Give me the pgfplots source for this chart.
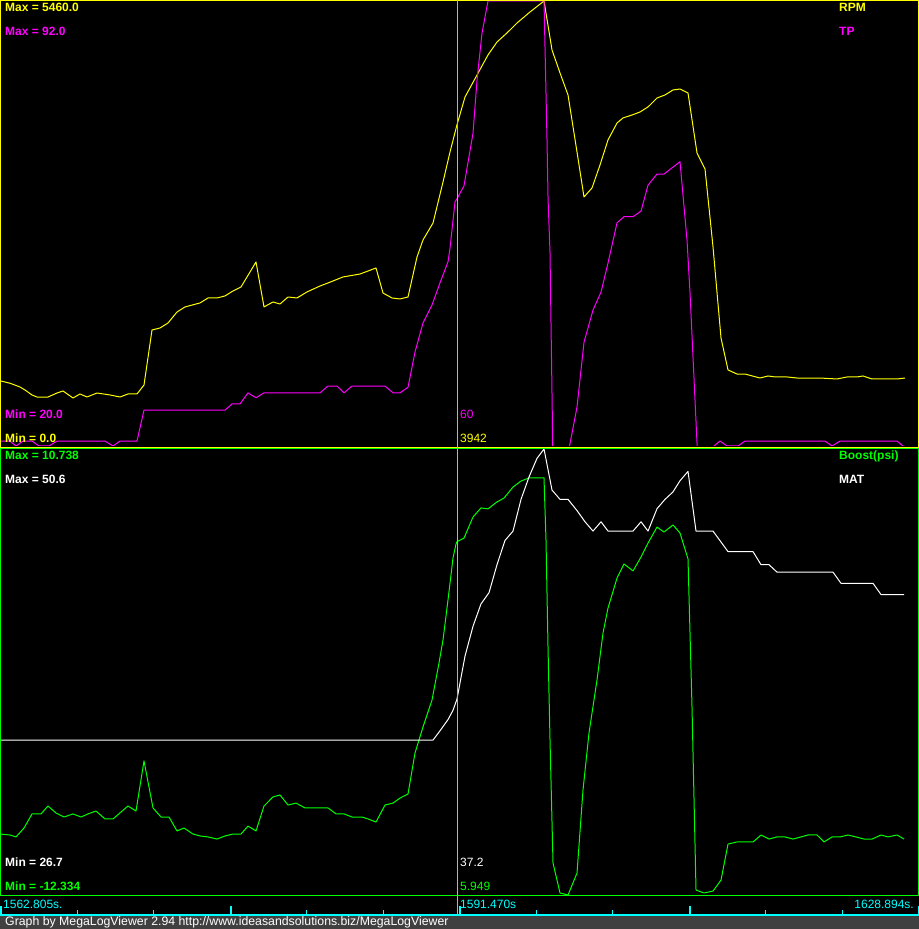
\documentclass[border=0pt]{standalone}
\usepackage{pgfplots}
\pgfplotsset{compat=1.18}
\usepackage{fontspec}
\setmainfont{Liberation Sans}
\definecolor{myyellow}{RGB}{255,255,0}
\definecolor{mymag}{RGB}{255,0,255}
\definecolor{mygreen}{RGB}{0,255,0}
\definecolor{mycyan}{RGB}{0,255,255}
\definecolor{footgray}{RGB}{64,64,64}
\pgfplotsset{
  panel/.style={at={(0bp,#1)}, anchor=south west, width=918bp, scale only axis,
    xmin=0, xmax=918, axis lines=none, ticks=none, clip=true},
  trace/.style={line width=1bp, mark=none, line join=round}
}
\begin{document}
\begin{tikzpicture}[x=1bp,y=1bp]
\useasboundingbox (0,0) rectangle (919,929);
\clip (0,0) rectangle (919,929);
\fill[black] (0,0) rectangle (919,929);
\fill[footgray] (0,0) rectangle (919,13);

% ---------- top panel: RPM ----------
\begin{axis}[panel=483bp, height=445bp, ymin=0, ymax=5460]
\addplot[trace, myyellow] coordinates {
(0,800)(10,770)(20,724)(25,687)(32,626)(37,601)(48,601)(57,650)(63,675)(73,589)
(80,638)(87,601)(97,650)(110,626)(120,601)(128,638)(137,638)(144,748)(152,1423)(160,1448)
(168,1509)(177,1644)(185,1706)(200,1755)(208,1816)(217,1816)(225,1841)(233,1902)(241,1951)(256,2258)
(264,1706)(273,1767)(280,1742)(288,1828)(297,1816)(307,1890)(320,1963)(328,2000)(343,2074)(360,2110)
(376,2184)(383,1877)(392,1816)(400,1804)(408,1828)(417,2319)(423,2528)(433,2736)(443,3239)(450,3607)
(457,3942)(465,4282)(477,4552)(488,4798)(497,4957)(507,5068)(517,5190)(530,5325)(544,5460)(552,4859)
(560,4577)(568,4307)(577,3607)(584,3055)(592,3166)(600,3448)(608,3755)(617,3963)(623,4025)(632,4061)
(640,4098)(648,4160)(657,4270)(665,4307)(673,4368)(680,4380)(688,4331)(697,3595)(705,3399)(713,2442)
(721,1325)(728,933)(737,883)(745,883)(760,834)(768,859)(775,847)(787,847)(797,834)(820,834)
(837,822)(847,847)(857,847)(863,859)(872,822)(887,822)(897,822)(905,834)
};
\end{axis}
% ---------- top panel: TP ----------
\begin{axis}[panel=483bp, height=445bp, ymin=20, ymax=92]
\addplot[trace, mymag] coordinates {
(0,20.8)(10,20.8)(16,20)(23,20.8)(32,20.8)(39,20)(49,20)(57,20.8)(105,20.8)(113,20)
(120,20.8)(137,20.8)(144,25.8)(225,25.8)(232,26.8)(240,26.8)(248,28.6)(256,27.8)(264,28.6)(320,28.6)
(328,29.7)(337,29.7)(344,28.6)(352,29.7)(385,29.7)(393,28.6)(400,28.6)(408,29.5)(415,35.2)(423,39.9)
(432,42.8)(440,46.4)(448,49.8)(450,52.0)(455,59.5)(457,60)(464,62.1)(473,70.6)(477,79.2)(482,86.8)
(488,92)(544,92)(547,69.5)(548,60.3)(550,51.2)(553,17)(566,17)(577,26.3)(584,36.8)(593,42.0)
(601,44.9)(608,49.6)(617,56.1)(624,57.1)(633,57.1)(641,58.0)(648,62.2)(657,64.0)(664,64.0)(680,66.0)
(687,53.3)(690,44.8)(698,17)(712,17)(714,20)(720,20.8)(727,20)(738,20)(745,20.8)(825,20.8)(832,20)
(840,20.8)(897,20.8)(903,20)
};
\end{axis}

% ---------- bottom panel: Boost ----------
\begin{axis}[panel=34bp, height=446bp, ymin=-12.334, ymax=10.738]
\addplot[trace, mygreen] coordinates {
(0,-9.18)(10,-9.23)(16,-9.33)(24,-8.87)(32,-8.14)(41,-8.14)(48,-7.73)(56,-8.09)(64,-8.30)(73,-8.14)
(81,-8.30)(88,-8.14)(96,-7.99)(105,-8.40)(113,-8.40)(121,-8.04)(128,-7.73)(136,-7.99)(144,-5.40)(153,-7.83)
(161,-8.30)(169,-8.30)(177,-9.02)(184,-8.87)(193,-9.18)(200,-9.28)(208,-9.33)(217,-9.44)(225,-9.28)(233,-9.18)
(241,-9.18)(248,-8.77)(256,-9.02)(264,-7.73)(273,-7.26)(280,-7.16)(288,-7.68)(296,-7.58)(305,-7.83)(328,-7.83)
(336,-8.14)(344,-8.14)(352,-8.30)(362,-8.30)(368,-8.40)(376,-8.56)(385,-7.68)(393,-7.58)(400,-7.32)(408,-7.11)
(415,-4.99)(423,-3.64)(432,-2.25)(439,-0.33)(443,0.86)(448,2.93)(453,5.10)(456,5.82)(457,5.949)(464,6.13)
(473,7.22)(481,7.69)(488,7.64)(497,8.00)(504,8.20)(513,8.77)(521,9.08)(529,9.24)(544,9.24)(546,6.03)
(548,0.50)(550,-4.32)(553,-10.68)(560,-12.23)(568,-12.334)(577,-11.20)(583,-6.90)(589,-3.95)(597,-1.21)(603,1.22)
(608,2.51)(617,4.06)(624,4.79)(633,4.43)(641,5.15)(648,5.87)(657,6.70)(664,6.44)(673,6.81)(680,6.39)
(688,5.05)(692,-2.61)(696,-12.08)(704,-12.23)(713,-12.13)(721,-11.56)(728,-9.70)(737,-9.59)(753,-9.59)(761,-9.23)
(769,-9.44)(777,-9.33)(785,-9.33)(793,-9.44)(801,-9.33)(808,-9.23)(817,-9.23)(824,-9.59)(832,-9.33)(840,-9.33)
(848,-9.23)(856,-9.33)(864,-9.44)(872,-9.44)(881,-9.23)(888,-9.33)(897,-9.23)(904,-9.44)
};
\end{axis}
% ---------- bottom panel: MAT ----------
\begin{axis}[panel=34bp, height=446bp, ymin=26.7, ymax=50.6]
\addplot[trace, white] coordinates {
(0,35.0)(433,35.0)(440,35.5)(448,36.1)(453,36.6)(457,37.2)(465,39.5)(473,41.1)(481,42.3)(489,42.9)
(497,44.4)(505,45.7)(513,46.2)(521,47.9)(529,49.1)(537,50.1)(544,50.6)(552,48.4)(560,47.9)(568,47.9)
(577,47.3)(585,46.7)(593,46.2)(601,46.7)(608,46.2)(633,46.2)(641,46.7)(648,46.2)(657,47.4)(665,47.9)
(673,48.3)(680,48.9)(688,49.4)(696,46.2)(713,46.2)(728,45.1)(753,45.1)(761,44.4)(769,44.4)(777,44.0)
(833,44.0)(841,43.4)(873,43.4)(881,42.8)(904,42.8)
};
\end{axis}

% ---------- frames ----------
\draw[myyellow, line width=1bp] (0.5,481.5) rectangle (918.5,928.5);
\draw[mygreen, line width=1bp] (0.5,33.5) rectangle (918.5,480.5);
% cursor (filled 1px column)
\fill[mycyan] (457,13) rectangle (458.2,929);
% time axis
\fill[mycyan] (0,13) rectangle (919,14.6);
\foreach \k in {0,...,12} {
  \pgfmathsetmacro{\tx}{round(\k*76.5)}
  \pgfmathtruncatemacro{\big}{mod(\k,3)==0 ? 1 : 0}
  \ifnum\big=1
    \fill[mycyan] (\tx,13) rectangle ({\tx+1.6},23);
  \else
    \fill[mycyan] (\tx,13) rectangle ({\tx+1.1},18.5);
  \fi
}

% ---------- labels ----------
\begin{scope}[every node/.style={inner sep=0pt, font=\fontsize{12bp}{14bp}\selectfont}]
\node[anchor=base west, text=myyellow, font=\fontsize{12bp}{14bp}\selectfont\bfseries] at (5,917) {Max = 5460.0};
\node[anchor=base west, text=mymag, font=\fontsize{12bp}{14bp}\selectfont\bfseries] at (5,893) {Max = 92.0};
\node[anchor=base west, text=myyellow, font=\fontsize{12bp}{14bp}\selectfont\bfseries] at (839,917) {RPM};
\node[anchor=base west, text=mymag, font=\fontsize{12bp}{14bp}\selectfont\bfseries] at (839,893) {TP};
\node[anchor=base west, text=mymag, font=\fontsize{12bp}{14bp}\selectfont\bfseries] at (5,510) {Min = 20.0};
\node[anchor=base west, text=myyellow, font=\fontsize{12bp}{14bp}\selectfont\bfseries] at (5,486) {Min = 0.0};
\node[anchor=base west, text=mymag] at (460,510) {60};
\node[anchor=base west, text=myyellow] at (460,486) {3942};

\node[anchor=base west, text=mygreen, font=\fontsize{12bp}{14bp}\selectfont\bfseries] at (5,469) {Max = 10.738};
\node[anchor=base west, text=white, font=\fontsize{12bp}{14bp}\selectfont\bfseries] at (5,445) {Max = 50.6};
\node[anchor=base west, text=mygreen, font=\fontsize{12bp}{14bp}\selectfont\bfseries] at (839,469) {Boost(psi)};
\node[anchor=base west, text=white, font=\fontsize{12bp}{14bp}\selectfont\bfseries] at (839,445) {MAT};
\node[anchor=base west, text=white, font=\fontsize{12bp}{14bp}\selectfont\bfseries] at (5,62) {Min = 26.7};
\node[anchor=base west, text=mygreen, font=\fontsize{12bp}{14bp}\selectfont\bfseries] at (5,38) {Min = -12.334};
\node[anchor=base west, text=white] at (460,62) {37.2};
\node[anchor=base west, text=mygreen] at (460,38) {5.949};

\node[anchor=base west, text=mycyan] at (3,20) {1562.805s.};
\node[anchor=base west, text=mycyan] at (460,20) {1591.470s};
\node[anchor=base east, text=mycyan] at (914,20) {1628.894s.};

\node[anchor=base west, text=white, font=\fontsize{12.3bp}{14bp}\selectfont] at (5,3) {Graph by MegaLogViewer 2.94 http://www.ideasandsolutions.biz/MegaLogViewer};
\end{scope}
\end{tikzpicture}
\end{document}
